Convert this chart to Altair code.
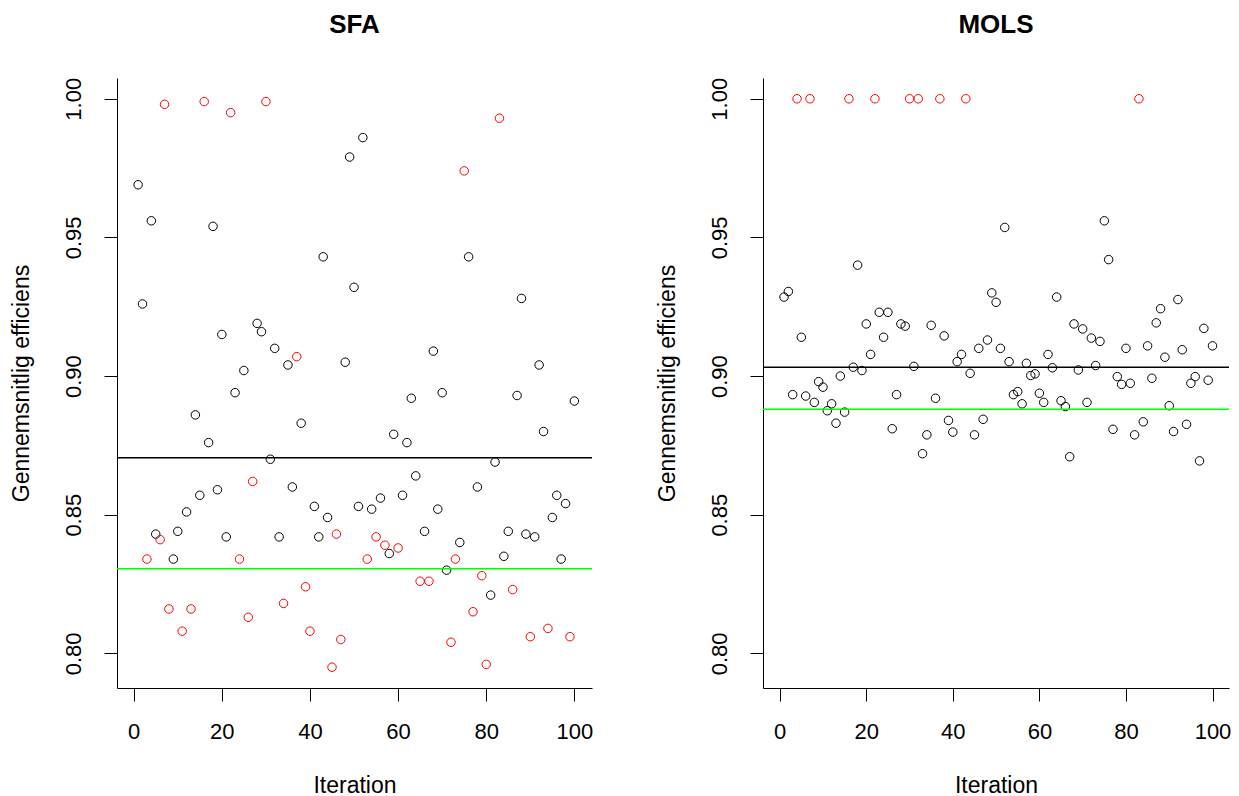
import altair as alt
import pandas as pd

ITER = list(range(1, 101))

SFA = [0.969, 0.926, 0.834, 0.956, 0.843, 0.841, 0.998, 0.816, 0.834, 0.844,
       0.808, 0.851, 0.816, 0.886, 0.857, 0.999, 0.876, 0.954, 0.859, 0.915,
       0.842, 0.995, 0.894, 0.834, 0.902, 0.813, 0.862, 0.919, 0.916, 0.999,
       0.870, 0.910, 0.842, 0.818, 0.904, 0.860, 0.907, 0.883, 0.824, 0.808,
       0.853, 0.842, 0.943, 0.849, 0.795, 0.843, 0.805, 0.905, 0.979, 0.932,
       0.853, 0.986, 0.834, 0.852, 0.842, 0.856, 0.839, 0.836, 0.879, 0.838,
       0.857, 0.876, 0.892, 0.864, 0.826, 0.844, 0.826, 0.909, 0.852, 0.894,
       0.830, 0.804, 0.834, 0.840, 0.974, 0.943, 0.815, 0.860, 0.828, 0.796,
       0.821, 0.869, 0.993, 0.835, 0.844, 0.823, 0.893, 0.928, 0.843, 0.806,
       0.842, 0.904, 0.880, 0.809, 0.849, 0.857, 0.834, 0.854, 0.806, 0.891]
SFA_RED = [3, 6, 7, 8, 11, 13, 16, 22, 24, 26, 27, 30, 34, 37, 39, 40, 45, 46,
           47, 53, 55, 57, 60, 65, 67, 72, 73, 75, 77, 79, 80, 83, 86, 90, 94, 99]
SFA_MEAN = 0.8705
SFA_TRUE = 0.8305

MOLS = [0.9285, 0.9305, 0.8933, 1.000, 0.914, 0.8928, 1.000, 0.8905, 0.898, 0.896,
        0.8875, 0.890, 0.883, 0.900, 0.887, 1.000, 0.9032, 0.940, 0.902, 0.9188,
        0.9078, 1.000, 0.923, 0.914, 0.923, 0.881, 0.8933, 0.9188, 0.918, 1.000,
        0.9035, 1.000, 0.872, 0.8788, 0.9183, 0.892, 1.000, 0.9145, 0.884, 0.8798,
        0.9052, 0.9078, 1.000, 0.901, 0.8788, 0.910, 0.8844, 0.913, 0.930, 0.9266,
        0.910, 0.9536, 0.9052, 0.8933, 0.8944, 0.890, 0.9046, 0.9002, 0.9008, 0.8938,
        0.8905, 0.9078, 0.903, 0.9285, 0.8911, 0.889, 0.8709, 0.9188, 0.9022, 0.917,
        0.8905, 0.9137, 0.9038, 0.9125, 0.956, 0.942, 0.8808, 0.8998, 0.897, 0.910,
        0.8974, 0.8788, 1.000, 0.8835, 0.9109, 0.8992, 0.9192, 0.9243, 0.9068, 0.8893,
        0.880, 0.9276, 0.9095, 0.8826, 0.8974, 0.8998, 0.8694, 0.9172, 0.8985, 0.9109]
MOLS_RED = [4, 7, 16, 22, 30, 32, 37, 43, 83]
MOLS_MEAN = 0.9032
MOLS_TRUE = 0.888

X_TICKS = [0, 20, 40, 60, 80, 100]
Y_TICKS = [0.80, 0.85, 0.90, 0.95, 1.00]

FONT = "Liberation Sans"
RED = "#FF0000"
BLACK = "#000000"
GREEN = "#00FF00"


def panel_data(values, red):
    return pd.DataFrame({
        "Iteration": ITER,
        "eff": values,
        "col": [RED if i in red else BLACK for i in ITER],
    })


def make_panel(title, values, red, mean_v, true_v, width, xdom):
    df = panel_data(values, red)
    lines = pd.DataFrame({"eff": [mean_v, true_v], "col": [BLACK, GREEN]})
    x = alt.X("Iteration:Q",
              scale=alt.Scale(domain=xdom, nice=False, zero=False),
              axis=alt.Axis(values=X_TICKS, title="Iteration", format="d",
                            labelBaseline="top", labelPadding=20,
                            titleX=width / 2, titleY=104, titleAlign="center",
                            titleBaseline="alphabetic"))
    y = alt.Y("eff:Q",
              scale=alt.Scale(domain=[0.7875, 1.0075], nice=False, zero=False),
              axis=alt.Axis(values=Y_TICKS, format=".2f",
                            title="Gennemsnitlig efficiens",
                            labelAngle=270, labelAlign="center",
                            labelBaseline="alphabetic", labelPadding=24,
                            titleAngle=270, titleX=-89, titleY=305,
                            titleAlign="center", titleBaseline="alphabetic"))
    pts = alt.Chart(df).mark_point(shape="circle", filled=False, size=72,
                                   strokeWidth=1, opacity=1).encode(
        x=x, y=y, color=alt.Color("col:N", scale=None))
    rules = alt.Chart(lines).mark_rule(strokeWidth=1.5).encode(
        y=y, color=alt.Color("col:N", scale=None))
    return alt.layer(pts, rules).properties(
        width=width, height=610,
        title=alt.TitleParams(title, fontSize=26, fontWeight="bold", font=FONT,
                              offset=18, baseline="alphabetic", anchor="middle",
                              frame="group", color=BLACK))


left = make_panel("SFA", SFA, SFA_RED, SFA_MEAN, SFA_TRUE, 475, [-3.79, 104.0])
right = make_panel("MOLS", MOLS, MOLS_RED, MOLS_MEAN, MOLS_TRUE, 466, [-3.86, 103.81])

chart = alt.hconcat(left, right, spacing=171, bounds="flush").properties(
    padding={"left": 2, "top": 4, "right": 0, "bottom": 0}
).configure_view(stroke=None).configure_axis(
    grid=False, domainColor=BLACK, domainWidth=1, tickColor=BLACK, tickWidth=1,
    tickSize=13, labelColor=BLACK, titleColor=BLACK, labelFont=FONT, titleFont=FONT,
    labelFontSize=22, titleFontSize=23, titleFontWeight="normal",
    labelOverlap=False, labelFlush=False
)

chart.save("out.html", embed_options={"renderer": "svg", "actions": False})
